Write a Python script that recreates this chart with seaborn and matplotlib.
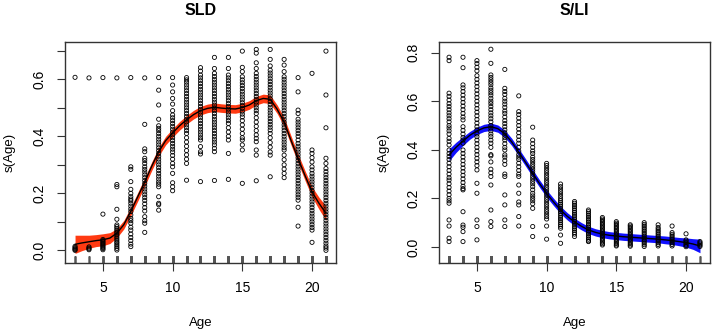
import numpy as np
import pandas as pd
import matplotlib.pyplot as plt
import seaborn as sns

ages = list(range(3, 22))

# partial residuals, one list per age (3..21)
sld_vals = [
    [0.607, 0.014, 0.010, 0.006, 0.003, 0.0],
    [0.605, 0.012, 0.008, 0.005, 0.002],
    [0.606, 0.127, 0.038, 0.034, 0.03, 0.026, 0.022, 0.018, 0.014, 0.01, 0.006, 0.002],
    [0.605, 0.231, 0.223, 0.144, 0.109, 0.089, 0.083, 0.077, 0.071, 0.065, 0.06, 0.054, 0.048,
     0.042, 0.036, 0.03, 0.025, 0.019, 0.013, 0.007, 0.001],
    [0.606, 0.293, 0.284, 0.241, 0.214, 0.2, 0.188, 0.18, 0.174, 0.165, 0.155, 0.145, 0.136,
     0.124, 0.112, 0.104, 0.095, 0.081, 0.071, 0.057, 0.045, 0.034, 0.022, 0.013],
    [0.605, 0.442, 0.356, 0.346, 0.323, 0.315, 0.305, 0.293, 0.284, 0.275, 0.265, 0.255, 0.245,
     0.235, 0.225, 0.215, 0.205, 0.195, 0.185, 0.175, 0.163, 0.15, 0.138, 0.118, 0.104, 0.095, 0.063],
    [0.606, 0.562, 0.51, 0.46, 0.437, 0.428, 0.42, 0.41, 0.4, 0.39, 0.38, 0.37, 0.36, 0.35, 0.34,
     0.33, 0.32, 0.31, 0.3, 0.29, 0.28, 0.27, 0.26, 0.25, 0.24, 0.232, 0.223, 0.188, 0.165, 0.16, 0.141],
    [0.606, 0.58, 0.556, 0.533, 0.513, 0.49, 0.475, 0.465, 0.455, 0.445, 0.435, 0.425, 0.415,
     0.405, 0.395, 0.385, 0.375, 0.365, 0.355, 0.345, 0.333, 0.32, 0.305, 0.293, 0.27, 0.237,
     0.223, 0.209],
    [0.606, 0.598, 0.59, 0.58, 0.57, 0.56, 0.55, 0.54, 0.53, 0.52, 0.51, 0.5, 0.49, 0.48, 0.47,
     0.46, 0.45, 0.44, 0.43, 0.42, 0.41, 0.395, 0.38, 0.365, 0.35, 0.335, 0.32, 0.305, 0.246],
    [0.641, 0.629, 0.615, 0.605, 0.595, 0.585, 0.575, 0.565, 0.555, 0.545, 0.535, 0.525, 0.515,
     0.505, 0.495, 0.485, 0.475, 0.465, 0.455, 0.445, 0.435, 0.425, 0.415, 0.405, 0.395, 0.387,
     0.364, 0.346, 0.338, 0.241],
    [0.677, 0.638, 0.621, 0.61, 0.6, 0.59, 0.58, 0.57, 0.56, 0.55, 0.54, 0.53, 0.52, 0.51, 0.5,
     0.49, 0.48, 0.47, 0.46, 0.45, 0.44, 0.43, 0.42, 0.41, 0.4, 0.39, 0.38, 0.37, 0.358, 0.346, 0.245],
    [0.677, 0.638, 0.615, 0.605, 0.595, 0.585, 0.575, 0.565, 0.555, 0.545, 0.535, 0.525, 0.515,
     0.505, 0.495, 0.485, 0.475, 0.465, 0.455, 0.445, 0.43, 0.415, 0.4, 0.387, 0.34, 0.249],
    [0.699, 0.642, 0.627, 0.609, 0.598, 0.588, 0.578, 0.568, 0.558, 0.548, 0.538, 0.528, 0.518,
     0.508, 0.498, 0.488, 0.478, 0.468, 0.455, 0.44, 0.425, 0.41, 0.395, 0.387, 0.37, 0.352, 0.235],
    [0.705, 0.692, 0.658, 0.638, 0.621, 0.61, 0.6, 0.59, 0.58, 0.57, 0.56, 0.55, 0.54, 0.53, 0.52,
     0.51, 0.5, 0.49, 0.48, 0.465, 0.45, 0.435, 0.42, 0.405, 0.393, 0.381, 0.352, 0.334, 0.244],
    [0.705, 0.67, 0.647, 0.632, 0.622, 0.612, 0.602, 0.592, 0.582, 0.572, 0.562, 0.552, 0.542,
     0.532, 0.522, 0.512, 0.502, 0.492, 0.482, 0.472, 0.462, 0.452, 0.442, 0.432, 0.422, 0.41,
     0.395, 0.378, 0.362, 0.345, 0.334, 0.258],
    [0.67, 0.65, 0.627, 0.609, 0.6, 0.59, 0.58, 0.57, 0.56, 0.55, 0.54, 0.53, 0.52, 0.51, 0.5,
     0.49, 0.48, 0.47, 0.46, 0.45, 0.44, 0.43, 0.42, 0.41, 0.4, 0.39, 0.38, 0.37, 0.36, 0.352,
     0.334, 0.318, 0.3, 0.285, 0.27, 0.255],
    [0.606, 0.556, 0.492, 0.48, 0.46, 0.45, 0.44, 0.43, 0.42, 0.41, 0.4, 0.387, 0.375, 0.365,
     0.355, 0.345, 0.335, 0.325, 0.315, 0.305, 0.295, 0.285, 0.275, 0.265, 0.255, 0.245, 0.235,
     0.225, 0.215, 0.205, 0.195, 0.186, 0.176, 0.151, 0.085],
    [0.621, 0.352, 0.34, 0.325, 0.31, 0.293, 0.282, 0.27, 0.26, 0.25, 0.24, 0.23, 0.22, 0.21, 0.2,
     0.19, 0.18, 0.17, 0.16, 0.15, 0.14, 0.13, 0.12, 0.11, 0.1, 0.09, 0.08, 0.071, 0.028],
    [0.699, 0.545, 0.43, 0.323, 0.305, 0.287, 0.276, 0.265, 0.255, 0.245, 0.235, 0.225, 0.215,
     0.205, 0.195, 0.185, 0.175, 0.165, 0.155, 0.145, 0.135, 0.125, 0.115, 0.105, 0.095, 0.085,
     0.075, 0.065, 0.055, 0.045, 0.035, 0.025, 0.015, 0.008, 0.0],
]

sli_vals = [
    [0.781, 0.767, 0.633, 0.62, 0.605, 0.59, 0.578, 0.565, 0.552, 0.54, 0.528, 0.515, 0.5, 0.49,
     0.478, 0.465, 0.447, 0.435, 0.42, 0.399, 0.385, 0.372, 0.36, 0.345, 0.33, 0.315, 0.3, 0.285,
     0.275, 0.26, 0.245, 0.23, 0.215, 0.2, 0.19, 0.18, 0.111, 0.086, 0.036, 0.022],
    [0.781, 0.738, 0.667, 0.655, 0.64, 0.625, 0.61, 0.595, 0.58, 0.565, 0.55, 0.535, 0.523, 0.495,
     0.48, 0.465, 0.45, 0.44, 0.427, 0.399, 0.385, 0.37, 0.355, 0.34, 0.325, 0.31, 0.295, 0.28,
     0.265, 0.25, 0.24, 0.235, 0.145, 0.09, 0.081, 0.063, 0.022],
    [0.767, 0.755, 0.74, 0.725, 0.705, 0.69, 0.675, 0.66, 0.645, 0.63, 0.615, 0.6, 0.585, 0.57,
     0.555, 0.54, 0.525, 0.51, 0.495, 0.482, 0.465, 0.454, 0.44, 0.425, 0.41, 0.395, 0.38, 0.365,
     0.35, 0.335, 0.317, 0.262, 0.221, 0.111, 0.084, 0.029],
    [0.814, 0.756, 0.708, 0.698, 0.688, 0.678, 0.668, 0.655, 0.645, 0.635, 0.625, 0.612, 0.6,
     0.59, 0.578, 0.565, 0.552, 0.54, 0.528, 0.515, 0.5, 0.49, 0.478, 0.465, 0.454, 0.44, 0.427,
     0.41, 0.38, 0.375, 0.35, 0.32, 0.305, 0.29, 0.255, 0.152, 0.104, 0.084],
    [0.731, 0.653, 0.64, 0.628, 0.612, 0.6, 0.588, 0.575, 0.56, 0.55, 0.535, 0.52, 0.508, 0.495,
     0.482, 0.47, 0.46, 0.45, 0.44, 0.425, 0.41, 0.399, 0.379, 0.37, 0.355, 0.34, 0.3, 0.29,
     0.214, 0.173, 0.111, 0.084],
    [0.622, 0.557, 0.545, 0.53, 0.515, 0.5, 0.485, 0.47, 0.455, 0.44, 0.427, 0.41, 0.395, 0.38,
     0.37, 0.36, 0.345, 0.33, 0.315, 0.3, 0.29, 0.255, 0.221, 0.185, 0.173, 0.125, 0.086],
    [0.493, 0.44, 0.425, 0.41, 0.395, 0.385, 0.37, 0.36, 0.35, 0.34, 0.33, 0.32, 0.31, 0.3, 0.29,
     0.28, 0.27, 0.26, 0.248, 0.235, 0.221, 0.21, 0.2, 0.19, 0.178, 0.159, 0.084, 0.043],
    [0.344, 0.335, 0.325, 0.315, 0.305, 0.295, 0.285, 0.275, 0.265, 0.255, 0.245, 0.235, 0.225,
     0.215, 0.205, 0.195, 0.185, 0.175, 0.165, 0.155, 0.145, 0.135, 0.125, 0.115, 0.086, 0.032],
    [0.259, 0.248, 0.238, 0.228, 0.218, 0.208, 0.198, 0.19, 0.182, 0.175, 0.168, 0.16, 0.152,
     0.145, 0.138, 0.13, 0.122, 0.115, 0.108, 0.1, 0.092, 0.085, 0.077, 0.049, 0.015],
    [0.187, 0.18, 0.172, 0.165, 0.158, 0.15, 0.142, 0.135, 0.128, 0.12, 0.112, 0.105, 0.098,
     0.09, 0.082, 0.075, 0.068, 0.06, 0.053, 0.043],
    [0.152, 0.145, 0.138, 0.13, 0.123, 0.116, 0.109, 0.102, 0.095, 0.088, 0.081, 0.074, 0.067,
     0.06, 0.053, 0.046, 0.039, 0.032, 0.025, 0.022],
    [0.121, 0.115, 0.109, 0.103, 0.097, 0.091, 0.085, 0.079, 0.073, 0.067, 0.061, 0.055, 0.049,
     0.043, 0.037, 0.031, 0.025, 0.019, 0.013, 0.008],
    [0.104, 0.098, 0.092, 0.086, 0.08, 0.074, 0.068, 0.062, 0.056, 0.05, 0.044, 0.038, 0.032,
     0.026, 0.02, 0.014, 0.008, 0.004],
    [0.091, 0.086, 0.08, 0.074, 0.068, 0.062, 0.056, 0.05, 0.044, 0.038, 0.032, 0.026, 0.02,
     0.014, 0.008, 0.003],
    [0.1, 0.093, 0.086, 0.079, 0.072, 0.065, 0.058, 0.051, 0.044, 0.037, 0.03, 0.023, 0.016,
     0.009, 0.002],
    [0.091, 0.08, 0.073, 0.066, 0.059, 0.052, 0.045, 0.038, 0.031, 0.024, 0.017, 0.01, 0.004],
    [0.086, 0.059, 0.052, 0.045, 0.038, 0.031, 0.024, 0.017, 0.01, 0.004],
    [0.054, 0.029, 0.024, 0.018, 0.012, 0.006, 0.001],
    [0.022, 0.017, 0.012, 0.007, 0.002],
]

# smooth term, every half year
fit_age = [3, 3.5, 4, 4.5, 5, 5.5, 6, 6.5, 7, 7.5, 8, 8.5, 9, 9.5, 10, 10.5, 11, 11.5, 12,
           12.5, 13, 13.5, 14, 14.5, 15, 15.5, 16, 16.5, 17, 17.5, 18, 18.5, 19, 19.5, 20,
           20.5, 21]
sld_fit = [0.021, 0.026, 0.030, 0.034, 0.037, 0.043, 0.060, 0.090, 0.137, 0.188, 0.240, 0.295,
           0.346, 0.385, 0.412, 0.437, 0.458, 0.476, 0.490, 0.498, 0.502, 0.499, 0.497, 0.496,
           0.501, 0.510, 0.525, 0.533, 0.530, 0.495, 0.450, 0.385, 0.322, 0.262, 0.205, 0.165,
           0.130]
sld_se = [0.032, 0.027, 0.023, 0.021, 0.021, 0.019, 0.016, 0.015, 0.015, 0.015, 0.015, 0.015,
          0.015, 0.015, 0.015, 0.015, 0.015, 0.015, 0.015, 0.015, 0.015, 0.015, 0.015, 0.015,
          0.015, 0.015, 0.015, 0.015, 0.015, 0.015, 0.016, 0.016, 0.016, 0.017, 0.018, 0.021,
          0.025]
sli_fit = [0.379, 0.410, 0.436, 0.460, 0.478, 0.490, 0.495, 0.487, 0.466, 0.432, 0.390, 0.347,
           0.303, 0.260, 0.220, 0.185, 0.152, 0.125, 0.103, 0.085, 0.070, 0.060, 0.053, 0.048,
           0.045, 0.042, 0.040, 0.038, 0.036, 0.034, 0.032, 0.029, 0.026, 0.022, 0.018, 0.012,
           0.004]
sli_se = [0.025, 0.021, 0.018, 0.016, 0.015, 0.015, 0.015, 0.015, 0.015, 0.015, 0.015, 0.015,
          0.015, 0.015, 0.015, 0.015, 0.015, 0.015, 0.015, 0.015, 0.015, 0.015, 0.015, 0.015,
          0.015, 0.015, 0.015, 0.015, 0.015, 0.015, 0.015, 0.016, 0.016, 0.017, 0.019, 0.022,
          0.028]

sns.set_style("white")
plt.rcParams["font.family"] = ["Liberation Sans", "DejaVu Sans"]
plt.rcParams["text.color"] = "black"
plt.rcParams["axes.labelcolor"] = "black"
plt.rcParams["xtick.color"] = "black"
plt.rcParams["ytick.color"] = "black"

edge = "#333333"


def long_df(vals):
    rows = [(a, v) for a, vs in zip(ages, vals) for v in vs]
    return pd.DataFrame(rows, columns=["Age", "s"])


fig = plt.figure(figsize=(7.12, 3.31), dpi=100)
panels = [
    ("SLD", sld_vals, sld_fit, sld_se, "#ff3a12", 0.0913, (-0.0435, 0.732),
     np.arange(0, 0.75, 0.1), ["0.0", "", "0.2", "", "0.4", "", "0.6", ""]),
    ("S/LI", sli_vals, sli_fit, sli_se, "#1010ff", 0.6166, (-0.065, 0.845),
     np.arange(0, 0.85, 0.2), ["0.0", "0.2", "0.4", "0.6", "0.8"]),
]

for title, vals, fit, se, col, left, ylim, yt, ytl in panels:
    ax = fig.add_axes([left, 0.2063, 0.3806, 0.6677])
    df = long_df(vals)
    lo = np.array(fit) - np.array(se)
    hi = np.array(fit) + np.array(se)
    ax.fill_between(fit_age, lo, hi, color=col, lw=0, zorder=1)
    sns.lineplot(x=fit_age, y=fit, color="black", lw=1.0, ax=ax, zorder=2)
    sns.scatterplot(data=df, x="Age", y="s", marker="o", s=9, facecolors="none",
                    edgecolor="black", linewidth=0.6, ax=ax, zorder=3)
    # rug of observed ages along the bottom
    sns.rugplot(data=df, x="Age", height=0.03, color="#555555", lw=0.4, ax=ax)

    ax.set_xlim(2.28, 21.72)
    ax.set_ylim(*ylim)
    ax.set_xticks([5, 10, 15, 20])
    ax.set_yticks(yt)
    ax.set_yticklabels(ytl, rotation=90, va="center")
    ax.tick_params(direction="out", length=5.5, width=0.8, color=edge,
                   labelsize=10, pad=8, left=True, bottom=True)
    for sp in ax.spines.values():
        sp.set_color(edge)
        sp.set_linewidth(1.0)
    ax.set_xlabel("Age", fontsize=9.5)
    ax.set_ylabel("s(Age)", fontsize=9.5)
    ax.xaxis.set_label_coords(0.5, -0.2457)
    ax.yaxis.set_label_coords(-0.182, 0.5)
    ax.set_title(title, fontsize=11.5, fontweight="bold", pad=19)

fig.savefig("out.png", dpi=100)
